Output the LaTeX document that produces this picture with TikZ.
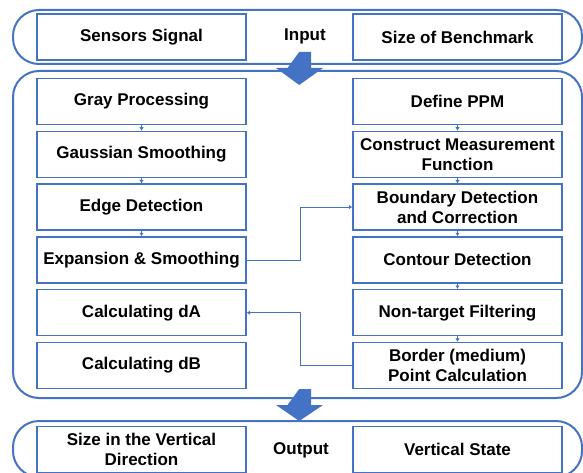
\documentclass[tikz,border=0pt]{standalone}
\usepackage{fontspec}
\setmainfont{Liberation Sans}
\usetikzlibrary{arrows.meta,positioning}
\definecolor{flblue}{HTML}{4472C4}
\tikzset{
  fl text/.style={font=\bfseries\fontsize{17}{20}\selectfont, text=black},
  fl panel/.style={draw=flblue, line width=2pt, rounded corners=26pt},
  fl box/.style={draw=flblue, line width=1.3pt, fill=white, minimum width=209pt,
    minimum height=46pt, align=center, inner sep=1pt, fl text},
  fl link/.style={-{Latex[length=3.5pt,width=4.5pt]}, draw=flblue, line width=0.8pt},
  fl bigarrow/.style={fill=flblue}
}

\begin{document}
\begin{tikzpicture}[x=1pt, y=1pt]
  \useasboundingbox (0,0) rectangle (583,472);
  % stage frames
  \draw[fl panel] (13,408) rectangle (582,462);
  \draw[fl panel] (13,74) rectangle (582,401);
  \draw[fl panel] (13,-5) rectangle (582,51);
  % block arrows between the stages
  \fill[fl bigarrow] (299.25,420) -- ++(11.75,0) -- ++(0,-16) -- ++(12,0)
    -- ++(-23.75,-17) -- ++(-23.25,17) -- ++(11.5,0) -- cycle;
  \fill[fl bigarrow] (299.25,83) -- ++(11.75,0) -- ++(0,-16) -- ++(12,0)
    -- ++(-23.75,-16) -- ++(-23.25,16) -- ++(11.5,0) -- cycle;

  % input stage
  \node[fl box] (sensor) at (141.5,435) {Sensors Signal};
  \node[fl text] (input) at (305,436) {Input};
  \node[fl box] (bench) at (457.5,435) {Size of Benchmark};

  % image processing, left column
  \node[fl box] (gray) at (141.5,370.5) {Gray Processing};
  \node[fl box, below=5.5pt of gray] (gauss) {Gaussian Smoothing};
  \node[fl box, below=5.5pt of gauss] (edge) {Edge Detection};
  \node[fl box, below=5.5pt of edge] (expand) {Expansion \& Smoothing};
  \node[fl box, below=5.5pt of expand] (calcA) {Calculating dA};
  \node[fl box, below=5.5pt of calcA] (calcB) {Calculating dB};

  % measurement, right column
  \node[fl box] (ppm) at (457.5,370.5) {Define PPM};
  \node[fl box, below=5.5pt of ppm] (measure) {Construct Measurement\\Function};
  \node[fl box, below=5.5pt of measure] (boundary) {Boundary Detection\\and Correction};
  \node[fl box, below=5.5pt of boundary] (contour) {Contour Detection};
  \node[fl box, below=5.5pt of contour] (filter) {Non-target Filtering};
  \node[fl box, below=5.5pt of filter] (border) {Border (medium)\\Point Calculation};

  \draw[fl link] (gray) -- (gauss);
  \draw[fl link] (gauss) -- (edge);
  \draw[fl link] (edge) -- (expand);
  \draw[fl link] (ppm) -- (measure);
  \draw[fl link] (measure) -- (boundary);
  \draw[fl link] (boundary) -- (contour);
  \draw[fl link] (contour) -- (filter);
  \draw[fl link] (filter) -- (border);
  \draw[fl link] (expand.east) -- ++(54,0) |- (boundary.west);
  \draw[fl link] (border.west) -- ++(-52,0) |- (calcA.east);

  % output stage
  \node[fl box] (vsize) at (141.5,22.5) {Size in the Vertical\\Direction};
  \node[fl text] (output) at (301,22) {Output};
  \node[fl box] (vstate) at (457.5,22.5) {Vertical State};
\end{tikzpicture}
\end{document}
